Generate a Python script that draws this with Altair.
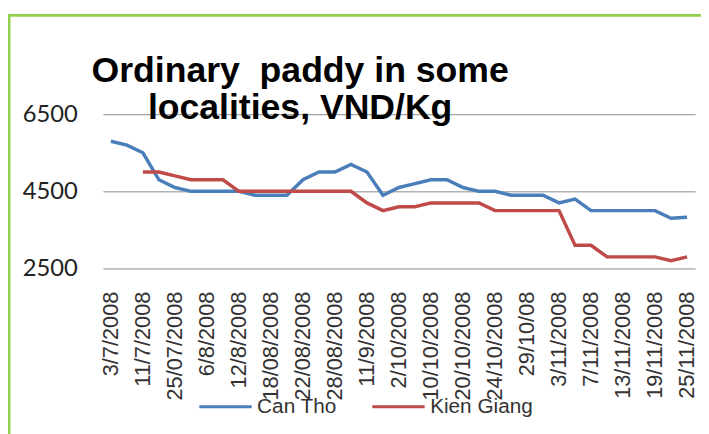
import altair as alt
import pandas as pd

# category index 0..36; labels shown on every second category
tick_labels = ["3/7/2008", "11/7/2008", "25/07/2008", "6/8/2008", "12/8/2008",
               "18/08/2008", "22/08/2008", "28/08/2008", "11/9/2008", "2/10/2008",
               "10/10/2008", "20/10/2008", "24/10/2008", "29/10/08", "3/11/2008",
               "7/11/2008", "13/11/2008", "19/11/2008", "25/11/2008"]

can_tho = [5800, 5700, 5500, 4800, 4600, 4500, 4500, 4500, 4500, 4400, 4400, 4400,
           4800, 5000, 5000, 5200, 5000, 4400, 4600, 4700, 4800, 4800, 4600, 4500,
           4500, 4400, 4400, 4400, 4200, 4300, 4000, 4000, 4000, 4000, 4000, 3800, 3830]

kien_giang = [None, None, 5000, 5000, 4900, 4800, 4800, 4800, 4500, 4500, 4500, 4500,
              4500, 4500, 4500, 4500, 4200, 4000, 4100, 4100, 4200, 4200, 4200, 4200,
              4000, 4000, 4000, 4000, 4000, 3100, 3100, 2800, 2800, 2800, 2800, 2700, 2800]

series_names = ["Can Tho", "Kien Giang"]
series_colors = ["#4A7EBB", "#BE4B48"]

rows = []
for name, vals in zip(series_names, [can_tho, kien_giang]):
    for i, v in enumerate(vals):
        if v is not None:
            rows.append({"idx": i, "price": v, "series": name})
df = pd.DataFrame(rows)

label_js = "[" + ",".join('"%s"' % s for s in tick_labels) + "]"

lines = alt.Chart(df).mark_line(strokeWidth=3.5).encode(
    x=alt.X("idx:Q",
            scale=alt.Scale(domain=[-0.5, 36.5], nice=False, zero=False),
            axis=alt.Axis(values=list(range(0, 37, 2)),
                          labelExpr=label_js + "[round(datum.value/2)]",
                          labelAngle=270, labelAlign="right", labelBaseline="middle",
                          labelPadding=23, ticks=False, domain=False, grid=False,
                          labelFont="Liberation Sans", labelFontSize=22,
                          labelColor="#333333", labelOverlap=False, title=None)),
    y=alt.Y("price:Q",
            scale=alt.Scale(domain=[2500, 6500], nice=False, zero=False),
            axis=alt.Axis(values=[2500, 4500, 6500], format="d", ticks=False, domain=False,
                          grid=True, gridColor="#8c8c8c", gridWidth=1,
                          labelPadding=26, labelFont="Lato", labelFontSize=24,
                          labelColor="#222222", title=None)),
    color=alt.Color("series:N",
                    scale=alt.Scale(domain=series_names, range=series_colors),
                    legend=alt.Legend(orient="none", direction="horizontal",
                                      legendX=96, legendY=268, title=None,
                                      symbolType="stroke", symbolSize=2809,
                                      symbolStrokeWidth=3, labelOffset=4,
                                      columnPadding=29,
                                      labelFont="Liberation Sans", labelFontSize=21,
                                      labelColor="#333333")),
)

border = alt.Chart(pd.DataFrame({"a": [0]})).mark_rect(
    fill="transparent", stroke="#92D050", strokeWidth=3
).encode(x=alt.value(-95), x2=alt.value(800), y=alt.value(-100), y2=alt.value(600))

chart = alt.layer(border, lines).properties(
    width=599, height=156,
    title=alt.TitleParams(text=["Ordinary\u00a0 paddy in some", "localities, VND/Kg"],
                          fontSize=36, font="Liberation Sans", fontWeight="bold",
                          color="black", anchor="middle", dx=-100, dy=114, offset=0,
                          lineHeight=37),
    autosize=alt.AutoSizeParams(type="none"),
    padding={"left": 96, "top": 105, "right": 6, "bottom": 165},
    background="white",
).configure_view(strokeWidth=0)

chart.save("out.html", embed_options={"renderer": "svg", "actions": False})
